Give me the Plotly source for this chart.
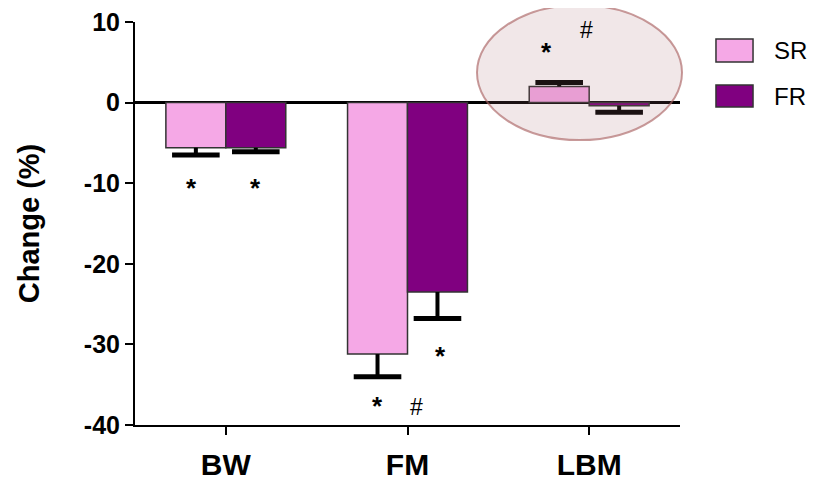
import plotly.graph_objects as go

categories = ["BW", "FM", "LBM"]
series_names = ["SR", "FR"]
sr_values = [-5.6, -31.2, 2.0]
fr_values = [-5.6, -23.5, -0.4]
sr_err = [0.9, 2.8, 0.5]
fr_err = [0.5, 3.3, 0.8]
y_ticks = [10, 0, -10, -20, -30, -40]
# significance markers: (category, series, symbol)
sig_marks = [
    ("BW", "SR", "*"), ("BW", "FR", "*"),
    ("FM", "SR", "*"), ("FM", "SR", "#"), ("FM", "FR", "*"),
    ("LBM", "SR", "*"), ("LBM", "SR", "#"),
]

SR_COLOR = "#f5a8e6"
FR_COLOR = "#800080"
FONT = "Liberation Sans, Arial, sans-serif"
BAR_W = 0.33
cat_pos = list(range(len(categories)))
series_offset = {"SR": -BAR_W / 2, "FR": BAR_W / 2}

fig = go.Figure()
for name, vals, errs, col in [("SR", sr_values, sr_err, SR_COLOR),
                              ("FR", fr_values, fr_err, FR_COLOR)]:
    xs = [p + series_offset[name] for p in cat_pos]
    plus = [e if v >= 0 else 0 for v, e in zip(vals, errs)]
    minus = [e if v < 0 else 0 for v, e in zip(vals, errs)]
    ends = [v + e if v >= 0 else v - e for v, e in zip(vals, errs)]
    fig.add_trace(go.Bar(
        x=xs, y=vals, name=name, width=BAR_W,
        marker=dict(color=col, line=dict(color="#333333", width=1.5)),
        error_y=dict(type="data", symmetric=False, array=plus, arrayminus=minus,
                     color="black", thickness=4, width=0),
        showlegend=False,
    ))
    # error bar caps (outer end only)
    fig.add_trace(go.Scatter(
        x=xs, y=ends, mode="markers", showlegend=False, hoverinfo="skip",
        marker=dict(symbol="line-ew", size=34, line=dict(color="black", width=5)),
    ))

# significance annotations placed relative to bar ends
vals_map = {"SR": dict(zip(categories, sr_values)), "FR": dict(zip(categories, fr_values))}
errs_map = {"SR": dict(zip(categories, sr_err)), "FR": dict(zip(categories, fr_err))}
x_shift = {
    ("BW", "SR", "*"): -4, ("BW", "FR", "*"): 0,
    ("FM", "SR", "*"): 0, ("FM", "SR", "#"): 39, ("FM", "FR", "*"): 3,
    ("LBM", "SR", "*"): -13, ("LBM", "SR", "#"): 27,
}
y_off = {
    ("BW", "SR", "*"): -4.1, ("BW", "FR", "*"): -4.5,
    ("FM", "SR", "*"): -3.6, ("FM", "SR", "#"): -3.8, ("FM", "FR", "*"): -4.6,
    ("LBM", "SR", "*"): 3.8, ("LBM", "SR", "#"): 6.5,
}
for cat, ser, sym in sig_marks:
    v = vals_map[ser][cat]
    e = errs_map[ser][cat]
    end = v - e if v < 0 else v + e
    fig.add_annotation(
        x=categories.index(cat) + series_offset[ser],
        y=end + y_off[(cat, ser, sym)], xref="x", yref="y",
        text=sym, showarrow=False, xshift=x_shift[(cat, ser, sym)],
        font=dict(family=FONT, size=26 if sym == "*" else 23, color="black",
                  weight="bold" if sym == "*" else "normal"),
        yanchor="middle", xanchor="center",
    )

# highlight ellipse around LBM
fig.add_shape(type="circle", xref="paper", yref="paper",
              x0=0.6275, x1=1.0037, y0=0.707, y1=1.042,
              fillcolor="rgba(165,105,110,0.16)",
              line=dict(color="rgba(170,100,100,0.65)", width=2),
              layer="above")

# custom legend
legend_y = {"SR": (0.9007, 0.9578), "FR": (0.789, 0.8437)}
for name, col in [("SR", SR_COLOR), ("FR", FR_COLOR)]:
    y0, y1 = legend_y[name]
    fig.add_shape(type="rect", xref="paper", yref="paper",
                  x0=1.066, x1=1.134, y0=y0, y1=y1,
                  fillcolor=col, line=dict(color="#333333", width=1.5))
    fig.add_annotation(xref="paper", yref="paper", x=1.168, y=(y0 + y1) / 2,
                       text=name, showarrow=False, xanchor="left", yanchor="middle",
                       font=dict(family=FONT, size=24, color="black"))

# the page body adds an 8px offset, so the figure is sized to fit the window
fig.update_layout(
    width=811, height=473,
    margin=dict(l=127, r=139, t=14, b=56, autoexpand=False),
    plot_bgcolor="white", paper_bgcolor="white",
    barmode="overlay",
    font=dict(family=FONT, color="black"),
)
fig.update_yaxes(
    range=[-40, 10], tickvals=y_ticks, ticktext=[str(t) for t in y_ticks],
    showgrid=False, zeroline=True, zerolinecolor="black", zerolinewidth=2.5,
    showline=True, linecolor="black", linewidth=2,
    ticks="outside", ticklen=8, tickwidth=2, tickcolor="black",
    tickfont=dict(family=FONT, size=25, weight="bold"),
    ticklabeloverflow="allow",
    automargin=False,
    title=dict(text="Change (%)", font=dict(family=FONT, size=29, weight="bold"), standoff=36),
)
fig.update_xaxes(
    range=[-0.5, 2.5], showgrid=False, zeroline=False,
    tickvals=cat_pos, ticktext=categories,
    showline=True, linecolor="black", linewidth=2,
    ticks="outside", ticklen=8, tickwidth=2, tickcolor="black",
    tickfont=dict(family=FONT, size=30, weight="bold"),
    ticklabelstandoff=4, ticklabeloverflow="allow",
    automargin=False,
)

fig.write_html("out.html")
